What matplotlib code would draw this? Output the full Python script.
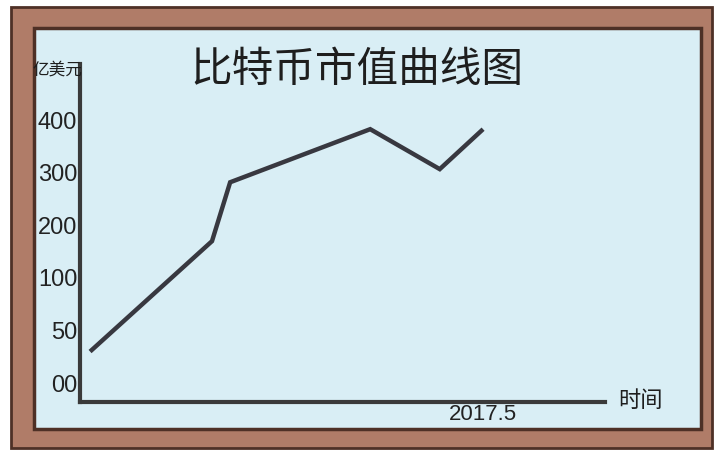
import numpy as np
import matplotlib
matplotlib.use("Agg")
import matplotlib.pyplot as plt
from matplotlib.patches import Rectangle

# ---- data ----
title = "比特币市值曲线图"
y_unit = "亿美元"
x_label = "时间"
x_vals = [0.10, 1.31, 1.49, 2.88, 3.57, 4.00]          # time (arbitrary units)
y_vals = [29, 168, 280, 381, 305, 381]                # market cap
y_tick_vals = [0, 50, 100, 200, 300, 400]
y_tick_labels = ["00", "50", "100", "200", "300", "400"]
x_tick_vals = [4.0]
x_tick_labels = ["2017.5"]

# uneven hand-drawn axis: tick labels equally spaced
ext_v = np.array([-50] + y_tick_vals + [700], dtype=float)
ext_p = np.array([-1, 0, 1, 2, 3, 4, 5, 8], dtype=float)
def fwd(v):
    return np.interp(v, ext_v, ext_p)
def inv(p):
    return np.interp(p, ext_p, ext_v)

W, H = 714, 452
fig = plt.figure(figsize=(W / 100, H / 100), dpi=100)
fig.patch.set_facecolor("white")

brown = "#b07c68"
dark = "#4e3026"
blue = "#d9eef5"
ink = "#383840"

bg = fig.add_axes([0, 0, 1, 1], zorder=-5)
bg.set_xlim(0, W)
bg.set_ylim(H, 0)
bg.axis("off")
bg.add_patch(Rectangle((11, 8), 701, 441, facecolor=brown, edgecolor=dark, lw=2))
bg.add_patch(Rectangle((34, 29), 667, 401, facecolor=blue, edgecolor=dark, lw=2.5))

ax = fig.add_axes([80 / W, (H - 403) / H, 525 / W, (403 - 65) / H])
ax.set_facecolor("none")
ax.set_yscale("function", functions=(fwd, inv))
ax.set_ylim(inv(-0.38), inv(6.05))
ax.set_xlim(0, 5.21)

ax.plot(x_vals, y_vals, color=ink, lw=3.2, solid_joinstyle="miter", solid_capstyle="butt")

for s in ["top", "right"]:
    ax.spines[s].set_visible(False)
for s in ["left", "bottom"]:
    ax.spines[s].set_color("#3a3a3a")
    ax.spines[s].set_linewidth(3)

narrow = ["Liberation Sans", "DejaVu Sans"]
ax.set_yticks(y_tick_vals)
ax.set_yticklabels(y_tick_labels, fontsize=17, family=narrow, color="#222222")
ax.set_xticks(x_tick_vals)
ax.set_xticklabels(x_tick_labels, fontsize=16, family=narrow, color="#222222")
ax.tick_params(axis="y", length=0, pad=2)
ax.tick_params(axis="x", length=0, pad=1)
ax.yaxis.set_minor_locator(matplotlib.ticker.NullLocator())

cjk = ["Noto Sans CJK SC", "DejaVu Sans"]
fig.text(357 / W, 1 - 70 / H, title, ha="center", va="center", fontsize=30,
         family=cjk, weight="light", color="#1e1e1e")
fig.text(57 / W, 1 - 70 / H, y_unit, ha="center", va="center", fontsize=12,
         family=cjk, color="#1e1e1e")
fig.text(640 / W, 1 - 401 / H, x_label, ha="center", va="center", fontsize=16,
         family=cjk, color="#1e1e1e")

fig.savefig("out.png", dpi=100, facecolor=fig.get_facecolor())
